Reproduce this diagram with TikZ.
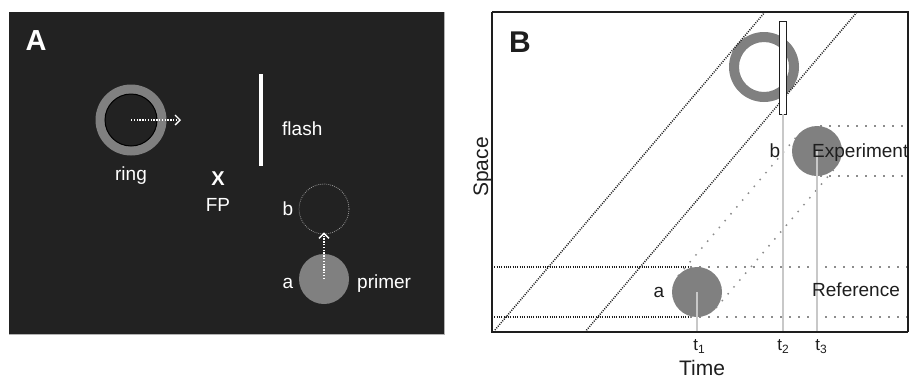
\documentclass[tikz,border=0pt]{standalone}
\usepackage{fontspec}
\setmainfont{Liberation Sans}
\usetikzlibrary{arrows.meta}
\definecolor{bgA}{HTML}{222222}
\definecolor{ringgray}{HTML}{808080}
\definecolor{darktext}{HTML}{1E1E1E}
\definecolor{vline}{HTML}{C8C8C8}
\definecolor{dotgray}{HTML}{8C8C8C}
\tikzset{
  lbl/.style={inner sep=0, anchor=base, font=\fontsize{19}{22}\selectfont},
  wlbl/.style={lbl, text=white},
  blbl/.style={lbl, text=darktext},
  panel/.style={inner sep=0, anchor=base, font=\fontsize{30}{32}\selectfont\bfseries},
  warrow/.style={white, line width=1.6pt, dash pattern=on 1.4pt off 1.4pt, -{Straight Barb[length=5pt,width=10pt,line width=1.4pt]}},
  blackdots/.style={darktext, line width=1.5pt, dash pattern=on 1pt off 1.3pt},
  greydots/.style={dotgray, line width=1.5pt, dash pattern=on 1.5pt off 7.5pt},
  tick/.style={vline, line width=1.2pt},
  disc/.style={circle, fill=ringgray, minimum size=50pt, inner sep=0},
  tlbl/.style={inner sep=0, anchor=base, text=darktext, font=\fontsize{17}{19}\selectfont},
}
\newcommand{\tsub}[1]{t\raisebox{-0.35ex}{\fontsize{12}{12}\selectfont #1}}
\begin{document}
\begin{tikzpicture}[x=1pt,y=-1pt]
\useasboundingbox (0,0) rectangle (909,378);
% ---------------- Panel A ----------------
\fill[bgA] (9,12) rectangle (444,334);
\draw[gray!60, line width=1pt] (9,334) -- (444,334) -- (444,12);
\node[panel, text=white, font=\fontsize{29}{31}\selectfont\bfseries] (labA) at (36,50) {A};
% ring
\coordinate (ringA) at (131,120);
\fill[ringgray] (ringA) circle (35.5);
\filldraw[fill=bgA, draw=black, line width=1pt] (ringA) circle (26);
\coordinate (ringTip) at (181,120);
\draw[warrow] (ringA) -- (ringTip);
\node[wlbl] (ringL) at (131,180) {ring};
% flash
\coordinate (flashT) at (261,74);
\coordinate (flashBt) at (261,166);
\draw[white, line width=4pt] (flashT) -- (flashBt);
\node[wlbl, anchor=base west] (flashL) at (282,135) {flash};
% FP
\node[inner sep=0, anchor=base, text=white, font=\fontsize{20}{22}\selectfont\bfseries] (X) at (218,185) {X};
\node[wlbl] (FP) at (218,211) {FP};
% b and a
\node[circle, draw=gray!80, dash pattern=on 0.8pt off 1.2pt, line width=0.8pt, minimum size=50pt, inner sep=0] (bA) at (324,209) {};
\node[disc] (aA) at (324,279) {};
\draw[warrow] (aA.center) -- ([yshift=2pt]bA.south);
\node[wlbl] (bAL) at (288,215) {b};
\node[wlbl] (aAL) at (288,288) {a};
\node[wlbl, anchor=base west] (primer) at (357,288) {primer};
% ---------------- Panel B ----------------
\coordinate (bl) at (492,332);
\coordinate (tr) at (908,12);
% horizontal reference lines
\coordinate (h1l) at (492,267); \coordinate (h1m) at (690,267); \coordinate (h1r) at (908,267);
\coordinate (h2l) at (492,317); \coordinate (h2m) at (690,317); \coordinate (h2r) at (908,317);
\draw[blackdots] (h1l) -- (h1m);
\draw[blackdots] (h2l) -- (h2m);
\draw[greydots] (h1m) -- (h1r);
\draw[greydots] (h2m) -- (h2r);
\coordinate (e1l) at (820,126); \coordinate (e1r) at (908,126);
\coordinate (e2l) at (820,176); \coordinate (e2r) at (908,176);
\draw[greydots] (e1l) -- (e1r);
\draw[greydots] (e2l) -- (e2r);
% grey diagonal tangents
\coordinate (ta1) at (678,276); \coordinate (tb1) at (798,135);
\coordinate (ta2) at (716,308); \coordinate (tb2) at (836,167);
\draw[greydots] (ta1) -- (tb1);
\draw[greydots] (ta2) -- (tb2);
% ring in B
\coordinate (ringB) at (764,67);
\fill[ringgray, even odd rule] (ringB) circle (35) (ringB) circle (25);
% black diagonals
\coordinate (d1a) at (495,330); \coordinate (d1b) at (765,12);
\coordinate (d2a) at (585,332); \coordinate (d2b) at (857,12);
\draw[blackdots] (d1a) -- (d1b);
\draw[blackdots] (d2a) -- (d2b);
% discs
\node[disc] (cA) at (697,292) {};
\node[disc] (cB) at (817,151) {};
% flash bar
\node[rectangle, draw=darktext, fill=white, line width=0.8pt, minimum width=7pt, minimum height=93pt, inner sep=0] (flashB) at (782.5,67.5) {};
% time ticks
\coordinate (t1b) at (697,332);
\coordinate (t2b) at (783,332);
\coordinate (t3b) at (817,332);
\draw[tick] (cA.center) -- (t1b);
\draw[tick] (flashB.south -| t2b) -- (t2b);
\draw[tick] (cB.center) -- (t3b);
% axes box
\draw[darktext, line width=1.2pt] (492,12) -- (908,12) -- (908,332);
\draw[darktext, line width=2pt] (492,12) -- (bl) -- (908,332);
% labels
\node[panel, text=darktext] (labB) at (520,52) {B};
\node[blbl, anchor=base west] (expL) at (812,157) {Experiment};
\node[blbl, anchor=base west] (refL) at (812,296) {Reference};
\node[blbl] (aB) at (659,297) {a};
\node[blbl] (bB) at (775,157) {b};
\node[tlbl] (t1) at (699,350) {\tsub{1}};
\node[tlbl] (t2) at (783,350) {\tsub{2}};
\node[tlbl] (t3) at (821,350) {\tsub{3}};
\node[inner sep=0, anchor=base, text=darktext, font=\fontsize{21}{23}\selectfont] (timeL) at (702,375) {Time};
\node[inner sep=0, anchor=base, rotate=90, text=darktext, font=\fontsize{21}{23}\selectfont] (spaceL) at (488,167) {Space};
\end{tikzpicture}
\end{document}
